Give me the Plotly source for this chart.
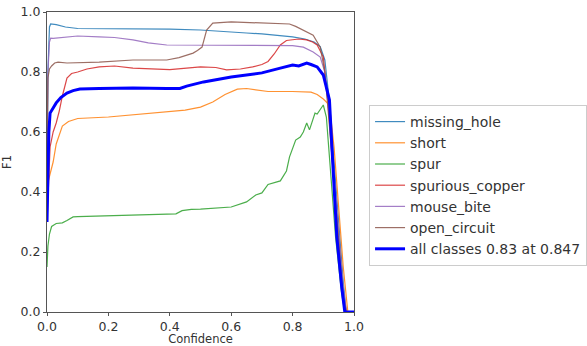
import plotly.graph_objects as go

# ---- data ----
missing_hole_x = [0, 0.003, 0.008, 0.012, 0.03, 0.06, 0.1, 0.2, 0.3, 0.4, 0.5, 0.6, 0.65, 0.7, 0.75, 0.8, 0.84, 0.87, 0.89, 0.905, 0.92, 0.935, 0.95, 0.965, 0.975, 1.0]
missing_hole_y = [0.35, 0.8, 0.95, 0.96, 0.958, 0.95, 0.945, 0.945, 0.944, 0.943, 0.94, 0.935, 0.93, 0.927, 0.922, 0.917, 0.91, 0.9, 0.885, 0.84, 0.7, 0.5, 0.3, 0.1, 0.0, 0.0]

short_x = [0, 0.005, 0.01, 0.02, 0.03, 0.05, 0.07, 0.1, 0.2, 0.3, 0.4, 0.45, 0.5, 0.54, 0.58, 0.62, 0.65, 0.68, 0.72, 0.8, 0.86, 0.88, 0.9, 0.92, 0.935, 0.95, 0.965, 0.98, 1.0]
short_y = [0.42, 0.44, 0.46, 0.5, 0.56, 0.62, 0.635, 0.645, 0.65, 0.66, 0.668, 0.673, 0.683, 0.70, 0.725, 0.743, 0.745, 0.74, 0.735, 0.735, 0.733, 0.725, 0.71, 0.69, 0.55, 0.35, 0.15, 0.0, 0.0]

spur_x = [0, 0.003, 0.008, 0.015, 0.03, 0.05, 0.065, 0.085, 0.1, 0.17, 0.3, 0.42, 0.44, 0.47, 0.5, 0.6, 0.65, 0.68, 0.70, 0.72, 0.76, 0.78, 0.79, 0.81, 0.825, 0.835, 0.846, 0.855, 0.873, 0.88, 0.9, 0.91, 0.925, 0.94, 0.96, 0.97, 1.0]
spur_y = [0.15, 0.22, 0.26, 0.285, 0.295, 0.297, 0.305, 0.317, 0.318, 0.32, 0.325, 0.327, 0.338, 0.342, 0.343, 0.35, 0.367, 0.39, 0.397, 0.425, 0.437, 0.47, 0.517, 0.573, 0.583, 0.6, 0.63, 0.607, 0.663, 0.66, 0.69, 0.65, 0.45, 0.25, 0.06, 0.0, 0.0]

spurious_copper_x = [0, 0.005, 0.01, 0.02, 0.03, 0.04, 0.05, 0.065, 0.08, 0.1, 0.13, 0.17, 0.22, 0.28, 0.33, 0.4, 0.5, 0.55, 0.585, 0.63, 0.67, 0.7, 0.72, 0.74, 0.76, 0.78, 0.82, 0.846, 0.865, 0.88, 0.9, 0.915, 0.93, 0.945, 0.96, 0.975, 1.0]
spurious_copper_y = [0.3, 0.42, 0.55, 0.6, 0.63, 0.67, 0.72, 0.78, 0.795, 0.80, 0.81, 0.817, 0.82, 0.813, 0.81, 0.808, 0.817, 0.815, 0.807, 0.81, 0.817, 0.825, 0.835, 0.86, 0.89, 0.905, 0.91, 0.907, 0.9, 0.89, 0.85, 0.7, 0.5, 0.3, 0.1, 0.0, 0.0]

mouse_bite_x = [0, 0.003, 0.008, 0.012, 0.02, 0.05, 0.1, 0.17, 0.22, 0.28, 0.33, 0.39, 0.5, 0.6, 0.7, 0.76, 0.8, 0.835, 0.85, 0.867, 0.89, 0.905, 0.92, 0.935, 0.95, 0.965, 0.975, 1.0]
mouse_bite_y = [0.5, 0.8, 0.9, 0.913, 0.912, 0.915, 0.92, 0.917, 0.915, 0.907, 0.897, 0.89, 0.89, 0.89, 0.89, 0.89, 0.888, 0.883, 0.875, 0.867, 0.85, 0.8, 0.65, 0.45, 0.25, 0.08, 0.0, 0.0]

open_circuit_x = [0, 0.003, 0.008, 0.015, 0.025, 0.036, 0.065, 0.17, 0.28, 0.39, 0.43, 0.455, 0.476, 0.49, 0.505, 0.52, 0.54, 0.6, 0.7, 0.79, 0.81, 0.835, 0.867, 0.89, 0.905, 0.92, 0.935, 0.95, 0.965, 0.975, 1.0]
open_circuit_y = [0.5, 0.78, 0.81, 0.82, 0.83, 0.833, 0.83, 0.833, 0.84, 0.84, 0.848, 0.857, 0.863, 0.872, 0.883, 0.94, 0.963, 0.967, 0.963, 0.96, 0.952, 0.94, 0.923, 0.883, 0.8, 0.62, 0.42, 0.22, 0.05, 0.0, 0.0]

all_classes_x = [0, 0.003, 0.006, 0.01, 0.02, 0.03, 0.045, 0.065, 0.085, 0.107, 0.17, 0.28, 0.39, 0.433, 0.455, 0.5, 0.51, 0.6, 0.7, 0.76, 0.8, 0.82, 0.835, 0.846, 0.86, 0.88, 0.9, 0.91, 0.92, 0.928, 0.944, 0.96, 0.97, 1.0]
all_classes_y = [0.3, 0.5, 0.6, 0.663, 0.68, 0.697, 0.715, 0.73, 0.738, 0.743, 0.745, 0.747, 0.745, 0.745, 0.753, 0.763, 0.767, 0.783, 0.797, 0.813, 0.823, 0.82, 0.826, 0.83, 0.825, 0.817, 0.79, 0.75, 0.707, 0.55, 0.25, 0.083, 0.0, 0.0]

series_names = ["missing_hole", "short", "spur", "spurious_copper", "mouse_bite", "open_circuit"]
series_x = [missing_hole_x, short_x, spur_x, spurious_copper_x, mouse_bite_x, open_circuit_x]
series_y = [missing_hole_y, short_y, spur_y, spurious_copper_y, mouse_bite_y, open_circuit_y]
series_colors = ["#1f77b4", "#ff7f0e", "#2ca02c", "#d62728", "#9467bd", "#8c564b"]
all_label = "all classes 0.83 at 0.847"

tick_vals = [0.0, 0.2, 0.4, 0.6, 0.8, 1.0]
tick_text = ["0.0", "0.2", "0.4", "0.6", "0.8", "1.0"]

fig = go.Figure()
for name, xs, ys, c in zip(series_names, series_x, series_y, series_colors):
    fig.add_trace(go.Scatter(x=xs, y=ys, mode="lines", name=name,
                             line=dict(color=c, width=1.2), opacity=0.85))
fig.add_trace(go.Scatter(x=all_classes_x, y=all_classes_y, mode="lines", name=all_label,
                         line=dict(color="#0000ff", width=3)))

font = "DejaVu Sans"
axis_common = dict(range=[0, 1], tickvals=tick_vals, ticktext=tick_text,
                   showgrid=False, zeroline=False, showline=True, mirror=True,
                   linecolor="#555", linewidth=1, ticks="outside", ticklen=3,
                   tickcolor="#555", tickfont=dict(family=font, size=12.5, color="#333"))

fig.update_layout(
    width=587, height=346,
    margin=dict(l=47, r=233, t=12, b=34, autoexpand=False),
    paper_bgcolor="white", plot_bgcolor="white",
    font=dict(family=font, color="#333"),
    xaxis=dict(**axis_common, title=dict(text="Confidence", font=dict(family=font, size=11.5, color="#333"), standoff=3)),
    yaxis=dict(**axis_common, title=dict(text="F1", font=dict(family=font, size=11.5, color="#333"), standoff=8)),
    legend=dict(x=1.049, y=0.69, xanchor="left", yanchor="top",
                bgcolor="white", bordercolor="#ccc", borderwidth=1,
                font=dict(family=font, size=14, color="#333"),
                tracegroupgap=0),
    showlegend=True,
)

fig.write_html("out.html", config={"displayModeBar": False},
               post_script="document.body.style.margin='0px';document.body.style.overflow='hidden';")
